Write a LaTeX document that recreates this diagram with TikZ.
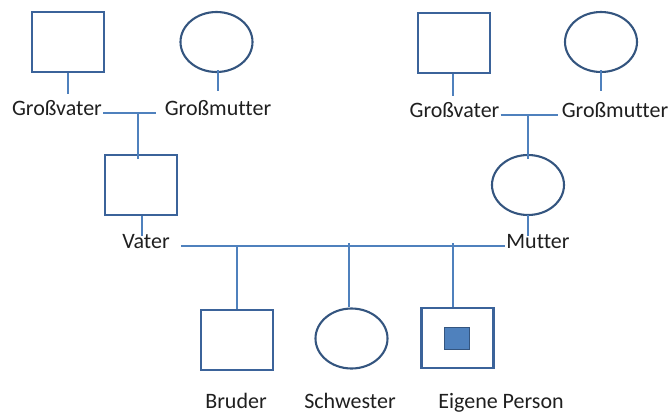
\documentclass[tikz,border=0pt]{standalone}
\usepackage{fontspec}
\setmainfont[Ligatures=NoCommon]{Carlito}
\usetikzlibrary{shapes.geometric}
\definecolor{conn}{HTML}{4F81BD}
\definecolor{outl}{HTML}{3B639A}
\definecolor{outc}{HTML}{34557F}
\tikzset{
  male/.style={draw=outl, line width=2.1pt, minimum width=72pt, minimum height=60pt, inner sep=0pt, rectangle},
  female/.style={draw=outc, line width=2.1pt, ellipse, minimum width=72pt, minimum height=60pt, inner sep=0pt},
  lab/.style={font=\fontsize{22}{24}\selectfont, inner sep=1pt, text=black!88},
  con/.style={draw=conn, line width=2.1pt}
}
\begin{document}
\begin{tikzpicture}[x=1pt,y=-1pt]
\useasboundingbox (0,0) rectangle (672,415);
% top left
\node[male] (gv1) at (68,42) {};
\node[female] (gm1) at (216.5,42) {};
\node[lab, anchor=base] (lgv1) at (57,115) {Großvater};
\node[lab, anchor=base] (lgm1) at (218,115) {Großmutter};
% top right
\node[male] (gv2) at (454,43) {};
\node[female] (gm2) at (601,42) {};
\node[lab, anchor=base] (lgv2) at (454.5,117) {Großvater};
\node[lab, anchor=base] (lgm2) at (615,117) {Großmutter};
% parents
\node[male] (va) at (141,185) {};
\node[female] (mu) at (528,185) {};
\node[lab, anchor=base] (lva) at (146,248) {Vater};
\node[lab, anchor=base] (lmu) at (538,248) {Mutter};
% children
\node[male] (br) at (237,340) {};
\node[female] (sw) at (351.5,338.5) {};
\node[male] (ep) at (457.5,338) {};
\node[draw=outc, line width=1.2pt, fill=conn, minimum width=25pt, minimum height=22pt, inner sep=0pt] (epi) at (457,338.5) {};
\node[lab, anchor=base] (lbr) at (236,408) {Bruder};
\node[lab, anchor=base] (lsw) at (350,408) {Schwester};
\node[lab, anchor=base] (lep) at (501,408) {Eigene Person};
% couple lines
\draw[con] (lgv1.mid east) -- ([xshift=-8pt]lgm1.mid west) coordinate[pos=0.67] (m1);
\draw[con] (lgv2.mid east) -- ([xshift=-3pt]lgm2.mid west) coordinate[pos=0.48] (m2);
\draw[con] ([xshift=10pt]lva.mid east) -- (lmu.mid west) coordinate (m3);
% descent lines from grandparents
\draw[con] (gv1.south) -- ++(0,21);
\draw[con] ([xshift=1.5pt,yshift=3pt]gm1.south) -- ++(0,21);
\draw[con] ([xshift=-1pt]gv2.south) -- ++(0,22);
\draw[con] ([yshift=3pt]gm2.south) -- ++(0,21);
\draw[con] (m1) -- ([yshift=-5pt]m1 |- va.north);
\draw[con] (m2) -- ([yshift=-5pt]m2 |- mu.north);
% parents to line
\draw[con] ([xshift=1pt]va.south) -- ++(0,20);
\draw[con] ([yshift=1pt]mu.south) -- ++(0,21);
% children lines
\draw[con] (br.north |- m3) -- (br.north);
\draw[con] (349,243) coordinate (c2) -- (c2 |- sw.north);
\draw[con] (453,243) coordinate (c3) -- (c3 |- ep.north);
\end{tikzpicture}
\end{document}
